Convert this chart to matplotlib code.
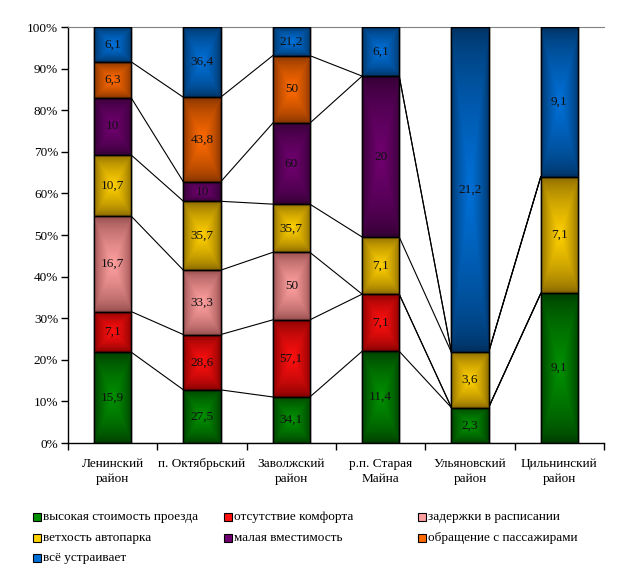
import numpy as np
import matplotlib
matplotlib.use("Agg")
import matplotlib.pyplot as plt
from matplotlib.patches import Rectangle
from matplotlib.ticker import FixedLocator, PercentFormatter

categories = ["Ленинский\nрайон", "п. Октябрьский", "Заволжский\nрайон",
              "р.п. Старая\nМайна", "Ульяновский\nрайон", "Цильнинский\nрайон"]
series_names = ["высокая стоимость проезда", "отсутствие комфорта", "задержки в расписании",
                "ветхость автопарка", "малая вместимость", "обращение с пассажирами",
                "всё устраивает"]
high_cost   = [15.9, 27.5, 34.1, 11.4, 2.3, 9.1]
no_comfort  = [7.1, 28.6, 57.1, 7.1, 0, 0]
delays      = [16.7, 33.3, 50, 0, 0, 0]
old_fleet   = [10.7, 35.7, 35.7, 7.1, 3.6, 7.1]
small_cap   = [10, 10, 60, 20, 0, 0]
treatment   = [6.3, 43.8, 50, 0, 0, 0]
all_ok      = [6.1, 36.4, 21.2, 6.1, 21.2, 9.1]
series = [high_cost, no_comfort, delays, old_fleet, small_cap, treatment, all_ok]

centers = ["#009000", "#ff1010", "#ffa0a0", "#ffd000", "#700070", "#ff6a00", "#0070d8"]
edges   = ["#003800", "#7a0000", "#904848", "#806000", "#300030", "#7a3000", "#00305e"]

plt.rcParams['font.family'] = ['Liberation Serif', 'DejaVu Serif']
FS = 9.5

fig = plt.figure(figsize=(6.2, 5.8), dpi=100)
ax = fig.add_axes([68/620, 1-443/580, (604-68)/620, (443-27)/580])

data = np.array(series, dtype=float)
pct = data / data.sum(axis=0) * 100
x = np.arange(len(categories))
width = 0.415

def hex2rgb(h):
    h = h.lstrip('#')
    return np.array([int(h[i:i+2], 16) / 255 for i in (0, 2, 4)])

n = 80
u = np.linspace(-1, 1, n)
U, V = np.meshgrid(u, u)
T = 1 - np.maximum(np.abs(U), np.abs(V))
T = np.clip(T, 0, 1) ** 0.6

bottom = np.zeros(len(categories))
bounds = [bottom.copy()]
for i, vals in enumerate(pct):
    bars = ax.bar(x, vals, width, bottom=bottom, facecolor=centers[i],
                  edgecolor='black', linewidth=1.0, zorder=3)
    c = hex2rgb(centers[i]); e = hex2rgb(edges[i])
    img = e[None, None, :] + (c - e)[None, None, :] * T[:, :, None]
    for b, v, raw in zip(bars, vals, series[i]):
        if v <= 0:
            continue
        x0, y0 = b.get_x(), b.get_y()
        ax.imshow(img, extent=(x0, x0 + b.get_width(), y0, y0 + b.get_height()),
                  aspect='auto', interpolation='bilinear', zorder=3.5)
        r = Rectangle((x0, y0), b.get_width(), b.get_height(), facecolor='none',
                      edgecolor='black', linewidth=1.0, zorder=4)
        ax.add_patch(r)
        ax.text(x0 + b.get_width() / 2, y0 + b.get_height() / 2,
                f"{raw:g}".replace('.', ','), ha='center', va='center',
                fontsize=FS, color='#111111', zorder=5)
    bottom = bottom + vals
    bounds.append(bottom.copy())

# series lines
for bnd in bounds[1:-1] + [bounds[0]]:
    for j in range(len(categories) - 1):
        ax.plot([x[j] + width / 2, x[j + 1] - width / 2], [bnd[j], bnd[j + 1]],
                color='black', linewidth=0.8, zorder=2)

ax.set_xlim(-0.5, len(categories) - 0.5)
ax.set_ylim(0, 100)
ax.yaxis.set_major_locator(FixedLocator(np.arange(0, 101, 10)))
ax.yaxis.set_major_formatter(PercentFormatter(decimals=0))
ax.set_xticks(x)
ax.set_xticklabels(categories, fontsize=FS, linespacing=1.35)
ax.xaxis.set_minor_locator(FixedLocator(np.arange(-0.5, len(categories), 1)))
ax.tick_params(axis='x', which='major', length=0, pad=11)
ax.tick_params(axis='x', which='minor', length=5, width=1, direction='out')
ax.tick_params(axis='y', length=5, width=1, direction='out', labelsize=FS, pad=2)
ax.spines['right'].set_visible(False)
ax.spines['top'].set_color('#808080')
ax.spines['left'].set_linewidth(1)
ax.spines['bottom'].set_linewidth(1)

# legend
cols = [33, 224, 418]
rows = [517, 538, 558]
order = [(0, 0), (1, 0), (2, 0), (0, 1), (1, 1), (2, 1), (0, 2)]
for i, (ci, ri) in enumerate(order):
    px, py = cols[ci], rows[ri]
    fig.patches.append(Rectangle((px / 620, 1 - (py + 4) / 580), 8 / 620, 8 / 580,
                                 transform=fig.transFigure, facecolor=centers[i],
                                 edgecolor='black', linewidth=0.8))
    fig.text((px + 10) / 620, 1 - py / 580, series_names[i], ha='left', va='center',
             fontsize=FS)

fig.savefig("out.png", dpi=100)
